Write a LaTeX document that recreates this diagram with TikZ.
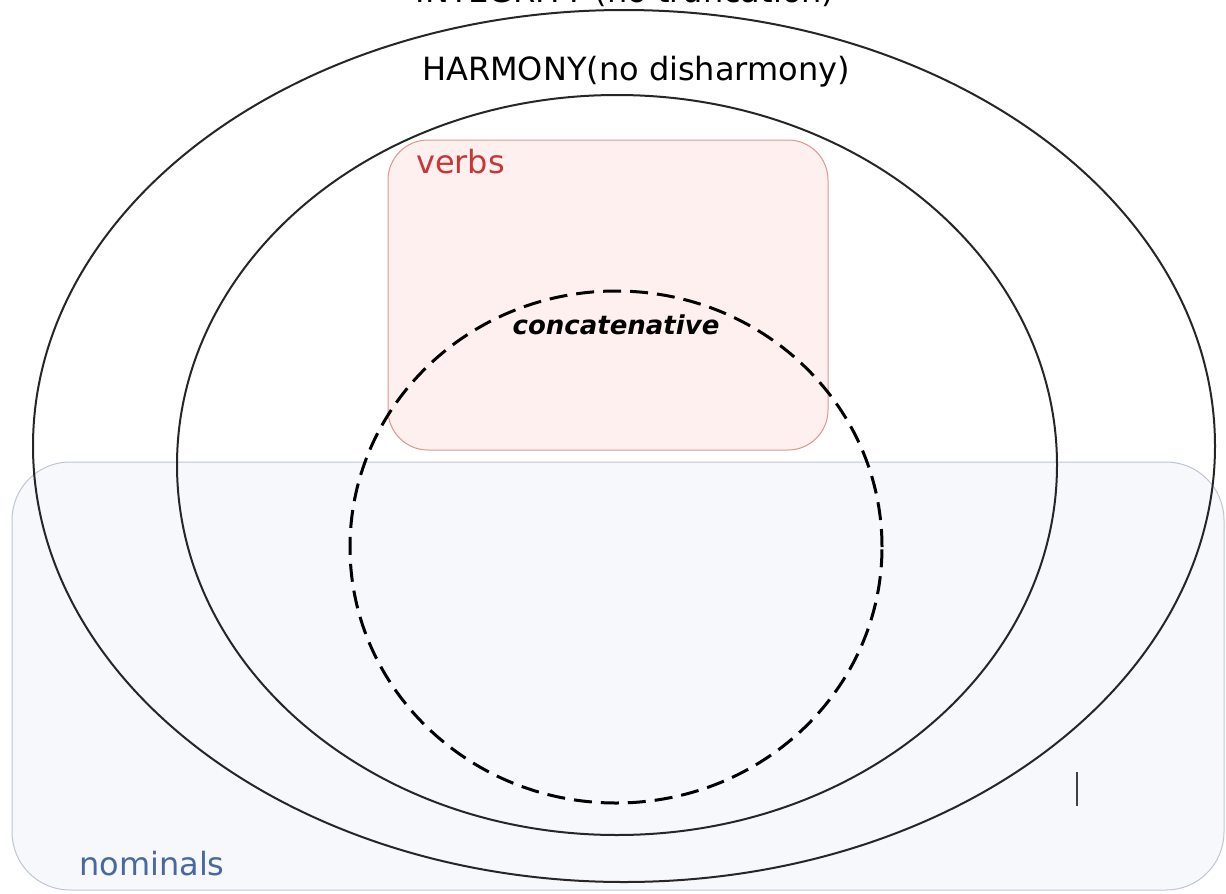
\documentclass[tikz,border=0pt]{standalone}
\usepackage{fontspec}
\setmainfont{DejaVu Sans}
\usetikzlibrary{shapes.geometric}
\definecolor{verbfill}{RGB}{253,240,238}
\definecolor{verbline}{RGB}{222,150,145}
\definecolor{verbtext}{RGB}{200,55,55}
\definecolor{nomfill}{RGB}{246,248,252}
\definecolor{nomline}{RGB}{190,198,212}
\definecolor{nomtext}{RGB}{72,105,160}
\tikzset{
  setline/.style={draw=black!85, line width=2pt},
  lbl/.style={inner sep=0pt, font=\fontsize{32}{38}\selectfont},
  region/.style={line width=1pt, rounded corners=#1},
}
\begin{document}
\begin{tikzpicture}[x=1pt,y=-1pt]
\useasboundingbox (0,0) rectangle (1226,894);
\clip (0,0) rectangle (1226,894);
\fill[white] (0,0) rectangle (1226,894);
% regions
\filldraw[region=40pt, fill=verbfill, draw=verbline] (388,140) rectangle (828,450);
\filldraw[region=58pt, fill=nomfill, draw=nomline] (12,462) rectangle (1224,890);
% sets
\draw[setline] (624,446) ellipse [x radius=591pt, y radius=436pt];
\draw[setline] (617,465) ellipse [x radius=440pt, y radius=370pt];
\draw[black, line width=3pt, dash pattern=on 18pt off 9pt] (616,547) ellipse [x radius=266pt, y radius=256pt];
% labels
\node[lbl, anchor=base] (integ) at (625,2) {INTEGRITY (no truncation)};
\node[lbl, anchor=base] (harm) at (636,80) {HARMONY(no disharmony)};
\node[lbl, anchor=base west, text=verbtext] (verbs) at (416,173) {verbs};
\node[inner sep=0pt, anchor=base, font=\fontsize{26}{30}\selectfont\bfseries\itshape] (conc) at (616,334) {concatenative};
\node[lbl, anchor=base west, text=nomtext] (nom) at (79,875) {nominals};
\coordinate (barTop) at (1077,772);
\coordinate (barBot) at (1077,806);
\draw[black!75, line width=2pt] (barTop) -- (barBot);
\end{tikzpicture}
\end{document}
